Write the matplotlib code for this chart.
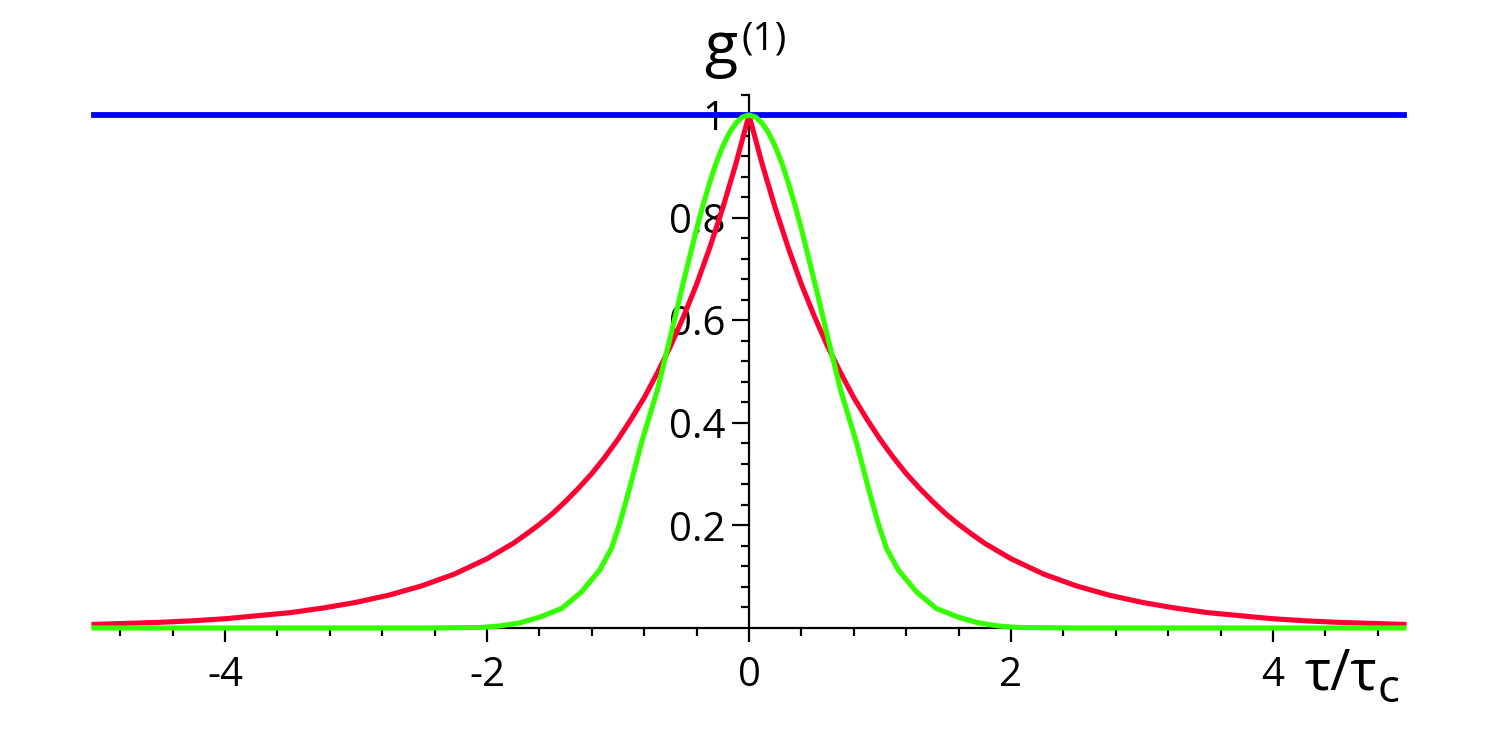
import matplotlib
matplotlib.use("Agg")
import matplotlib.pyplot as plt
from matplotlib.ticker import FixedLocator, FixedFormatter

plt.rcParams['font.family'] = ['Open Sans', 'DejaVu Sans']
plt.rcParams['axes.unicode_minus'] = False

# Data
blue_x = [-5.0, 5.0]
blue_y = [1.0, 1.0]

red_x = [-5.0, -4.75, -4.5, -4.25, -4.0, -3.75, -3.5, -3.25, -3.0, -2.75, -2.5, -2.25,
         -2.0, -1.9, -1.8, -1.7, -1.6, -1.5, -1.4, -1.3, -1.2, -1.1, -1.0,
         -0.9, -0.8, -0.7, -0.6, -0.5, -0.4, -0.3, -0.2, -0.1, 0.0,
         0.1, 0.2, 0.3, 0.4, 0.5, 0.6, 0.7, 0.8, 0.9, 1.0,
         1.1, 1.2, 1.3, 1.4, 1.5, 1.6, 1.7, 1.8, 1.9, 2.0,
         2.25, 2.5, 2.75, 3.0, 3.25, 3.5, 3.75, 4.0, 4.25, 4.5, 4.75, 5.0]
red_y = [0.007, 0.009, 0.011, 0.014, 0.018, 0.024, 0.030, 0.039, 0.050, 0.064, 0.082, 0.105,
         0.135, 0.150, 0.165, 0.183, 0.202, 0.223, 0.247, 0.273, 0.301, 0.333, 0.368,
         0.407, 0.449, 0.497, 0.549, 0.607, 0.670, 0.741, 0.819, 0.905, 1.0,
         0.905, 0.819, 0.741, 0.670, 0.607, 0.549, 0.497, 0.449, 0.407, 0.368,
         0.333, 0.301, 0.273, 0.247, 0.223, 0.202, 0.183, 0.165, 0.150, 0.135,
         0.105, 0.082, 0.064, 0.050, 0.039, 0.030, 0.024, 0.018, 0.014, 0.011, 0.009, 0.007]

green_x = [-5.0, -4.0, -3.0, -2.5, -2.05, -1.9, -1.75, -1.6, -1.43, -1.28, -1.14, -1.05,
           -0.985, -0.915, -0.82, -0.7, -0.6, -0.5, -0.4, -0.35, -0.3, -0.25, -0.2, -0.15,
           -0.1, -0.05, 0.0,
           0.05, 0.1, 0.15, 0.2, 0.25, 0.3, 0.35, 0.4, 0.5, 0.6, 0.7, 0.82, 0.915, 0.985,
           1.05, 1.14, 1.28, 1.43, 1.6, 1.75, 1.9, 2.05, 2.5, 3.0, 4.0, 5.0]
green_y = [0.0, 0.0, 0.0, 0.0, 0.001, 0.004, 0.010, 0.021, 0.038, 0.070, 0.113, 0.155,
           0.205, 0.269, 0.362, 0.463, 0.568, 0.675, 0.778, 0.825, 0.868, 0.907, 0.939, 0.965,
           0.984, 0.996, 1.0,
           0.996, 0.984, 0.965, 0.939, 0.907, 0.868, 0.825, 0.778, 0.675, 0.568, 0.463, 0.362, 0.269, 0.205,
           0.155, 0.113, 0.070, 0.038, 0.021, 0.010, 0.004, 0.001, 0.0, 0.0, 0.0, 0.0]

x_major = [-4, -2, 0, 2, 4]
x_major_labels = ["-4", "-2", "0", "2", "4"]
x_minor = [-4.8, -4.4, -3.6, -3.2, -2.8, -2.4, -1.6, -1.2, -0.8, -0.4,
           0.4, 0.8, 1.2, 1.6, 2.4, 2.8, 3.2, 3.6, 4.4, 4.8]
y_major = [0.2, 0.4, 0.6, 0.8, 1.0]
y_major_labels = ["0.2", "0.4", "0.6", "0.8", "1"]
y_minor = [0.04, 0.08, 0.12, 0.16, 0.24, 0.28, 0.32, 0.36, 0.44, 0.48, 0.52, 0.56,
           0.64, 0.68, 0.72, 0.76, 0.84, 0.88, 0.92, 0.96, 1.04]

fig = plt.figure(figsize=(15, 7.39), dpi=100)
ax = fig.add_axes([94/1500, 1 - 628/739, 1310/1500, (628 - 94.5)/739])
ax.set_xlim(-5, 5)
ax.set_ylim(0, 1.04)

ax.plot(blue_x, blue_y, color='#0000ff', lw=4.2, solid_capstyle='projecting', clip_on=False, zorder=3)
ax.plot(red_x, red_y, color='#ff0033', lw=3.7, solid_capstyle='projecting', solid_joinstyle='round',
        clip_on=False, zorder=4)
ax.plot(green_x, green_y, color='#33ff00', lw=3.7, solid_capstyle='projecting', solid_joinstyle='round',
        clip_on=False, zorder=5)

for s in ['top', 'right']:
    ax.spines[s].set_visible(False)
ax.spines['left'].set_position(('data', 0))
ax.spines['bottom'].set_position(('data', 0))
for s in ['left', 'bottom']:
    ax.spines[s].set_linewidth(1.6)
    ax.spines[s].set_zorder(2)

ax.xaxis.set_major_locator(FixedLocator(x_major))
ax.xaxis.set_major_formatter(FixedFormatter(x_major_labels))
ax.xaxis.set_minor_locator(FixedLocator(x_minor))
ax.yaxis.set_major_locator(FixedLocator(y_major))
ax.yaxis.set_major_formatter(FixedFormatter(y_major_labels))
ax.yaxis.set_minor_locator(FixedLocator(y_minor))

ax.tick_params(axis='x', which='major', direction='out', length=10, width=1.6, labelsize=29, pad=10)
ax.tick_params(axis='x', which='minor', direction='out', length=5.5, width=1.6)
ax.tick_params(axis='y', which='major', direction='out', length=12, width=1.6, labelsize=29, pad=5)
ax.tick_params(axis='y', which='minor', direction='out', length=6, width=1.6)
for lab in ax.get_yticklabels():
    lab.set_zorder(1)

# axis titles
ax.text(-0.345, 1.097, 'g', fontsize=44, ha='left', va='baseline', clip_on=False)
ax.text(-0.06, 1.127, '(1)', fontsize=28, ha='left', va='baseline', clip_on=False)
ax.text(4.24, -0.12, 'τ/τ', fontsize=40, ha='left', va='baseline', clip_on=False)
ax.text(4.8, -0.145, 'c', fontsize=33, ha='left', va='baseline', clip_on=False)

fig.savefig('out.png', dpi=100)
